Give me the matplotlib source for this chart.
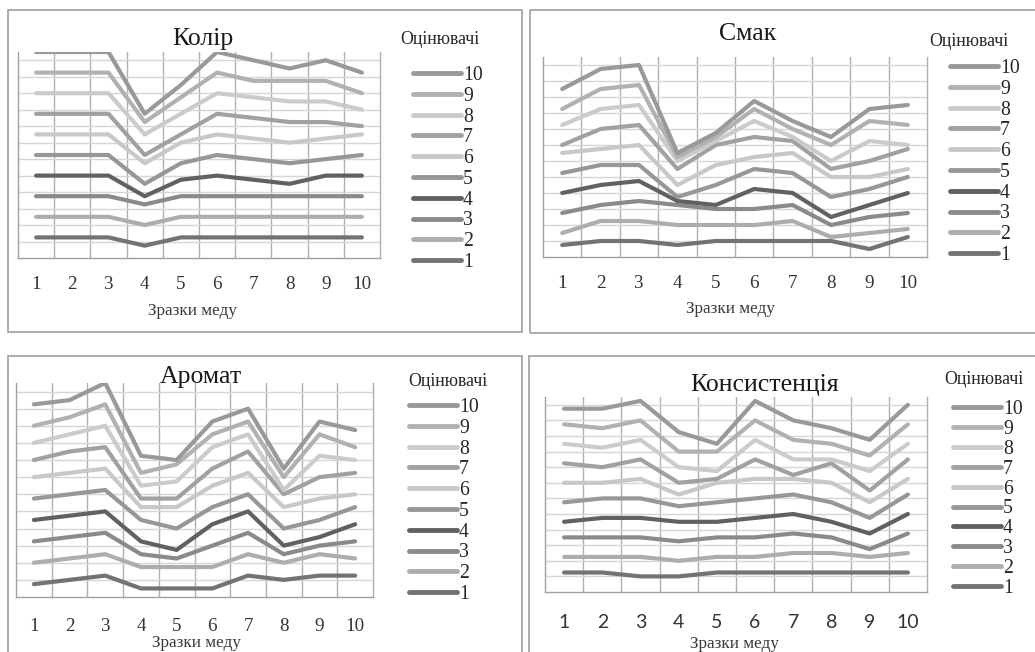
import matplotlib
matplotlib.use("Agg")
import matplotlib.pyplot as plt
from matplotlib.patches import Rectangle
from matplotlib.lines import Line2D
from matplotlib.font_manager import FontProperties
import numpy as np

W, H, DPI = 1035, 652, 100

samples = [1, 2, 3, 4, 5, 6, 7, 8, 9, 10]
sample_labels = ["1", "2", "3", "4", "5", "6", "7", "8", "9", "10"]
evaluators = ["1", "2", "3", "4", "5", "6", "7", "8", "9", "10"]

# scores of each evaluator (rows) for samples 1..10 (stacked in chart)
kolir = [
    [5, 5, 5, 3, 5, 5, 5, 5, 5, 5],
    [5, 5, 5, 5, 5, 5, 5, 5, 5, 5],
    [5, 5, 5, 5, 5, 5, 5, 5, 5, 5],
    [5, 5, 5, 2, 4, 5, 4, 3, 5, 5],
    [5, 5, 5, 3, 4, 5, 5, 5, 4, 5],
    [5, 5, 5, 5, 5, 5, 5, 5, 5, 5],
    [5, 5, 5, 2, 2, 5, 5, 5, 4, 2],
    [5, 5, 5, 5, 5, 5, 5, 5, 5, 4],
    [5, 5, 5, 3, 4, 5, 4, 5, 5, 4],
    [5, 5, 5, 2, 3, 5, 5, 3, 5, 5],
]
smak = [
    [3, 4, 4, 3, 4, 4, 4, 4, 2, 5],
    [3, 5, 5, 5, 4, 4, 5, 1, 4, 2],
    [5, 4, 5, 5, 4, 4, 4, 3, 4, 4],
    [5, 5, 5, 1, 1, 5, 3, 2, 3, 5],
    [5, 5, 4, 1, 5, 5, 5, 5, 4, 4],
    [5, 4, 5, 3, 5, 3, 5, 5, 3, 2],
    [2, 5, 5, 4, 5, 5, 3, 2, 4, 5],
    [5, 5, 5, 2, 1, 4, 1, 2, 5, 1],
    [4, 5, 5, 1, 1, 3, 2, 4, 5, 5],
    [5, 5, 5, 1, 1, 2, 2, 2, 3, 5],
]
aromat = [
    [3, 4, 5, 2, 2, 2, 5, 4, 5, 5],
    [5, 5, 5, 5, 5, 5, 5, 4, 5, 4],
    [5, 5, 5, 3, 2, 5, 5, 2, 2, 4],
    [5, 5, 5, 3, 2, 5, 5, 2, 2, 4],
    [5, 5, 5, 5, 5, 4, 4, 4, 4, 4],
    [5, 5, 5, 3, 5, 5, 5, 5, 5, 3],
    [4, 5, 5, 2, 2, 4, 5, 3, 5, 5],
    [4, 4, 5, 3, 4, 5, 4, 1, 5, 3],
    [4, 4, 5, 3, 4, 3, 3, 3, 5, 3],
    [5, 4, 5, 4, 1, 3, 3, 2, 3, 4],
]
konsystentsiia = [
    [5, 5, 4, 4, 5, 5, 5, 5, 5, 5],
    [4, 4, 5, 4, 4, 4, 5, 5, 4, 5],
    [5, 5, 5, 5, 5, 5, 5, 4, 2, 5],
    [4, 5, 5, 5, 4, 5, 5, 4, 4, 5],
    [5, 5, 5, 4, 5, 5, 5, 5, 4, 5],
    [5, 4, 5, 3, 5, 5, 4, 5, 4, 4],
    [5, 4, 5, 3, 1, 5, 1, 5, 3, 5],
    [5, 5, 5, 4, 2, 5, 4, 1, 5, 4],
    [5, 5, 5, 4, 5, 5, 5, 4, 4, 5],
    [4, 5, 5, 5, 2, 5, 5, 4, 4, 5],
]

colors = ["#737373", "#adadad", "#8a8a8a", "#616161", "#979797",
          "#c8c8c8", "#a1a1a1", "#cbcbcb", "#b1b1b1", "#999999"]

SERIF = "Liberation Serif"
fig = plt.figure(figsize=(W / DPI, H / DPI), dpi=DPI)
fig.patch.set_facecolor("white")


def fx(x):
    return x / W


def fy(y):
    return 1 - y / H


def frame(x0, y0, x1, y1):
    fig.add_artist(Rectangle((fx(x0), fy(y1)), (x1 - x0) / W, (y1 - y0) / H,
                             transform=fig.transFigure, fill=False,
                             ec="#a6a6a6", lw=1.3))


def panel(scores, plot, title, title_xy, pad, tickfont, ticksize, xlabel_xy,
          leg_title_xy, leg_xy, leg_space):
    l, t, r, b = plot
    ax = fig.add_axes([fx(l), fy(b), (r - l) / W, (b - t) / H])
    cum = np.cumsum(np.array(scores, dtype=float), axis=0)
    for i in range(len(evaluators)):
        ax.plot(samples, cum[i], color=colors[i], lw=3.0,
                solid_capstyle="round", solid_joinstyle="round", zorder=3 + i)
    ax.set_xlim(0.5, 10.5)
    ax.set_ylim(0, 50)
    ax.set_yticks(np.arange(4, 49, 4))
    ax.yaxis.grid(True, color="#d6d6d6", lw=1.0)
    ax.set_xticks(np.arange(1.5, 10.5, 1), minor=True)
    ax.xaxis.grid(True, which="minor", color="#b0b0b0", lw=1.0)
    ax.set_axisbelow(True)
    ax.tick_params(axis="y", left=False, labelleft=False)
    ax.tick_params(axis="x", which="both", length=0)
    ax.set_xticks(samples)
    ax.set_xticklabels(sample_labels, fontsize=ticksize, color="#333333",
                       family=tickfont)
    ax.tick_params(axis="x", which="major", pad=pad)
    ax.spines["top"].set_visible(False)
    ax.spines["right"].set_color("#b0b0b0")
    ax.spines["left"].set_color("#a0a0a0")
    ax.spines["bottom"].set_color("#a0a0a0")
    for s in ["right", "left", "bottom"]:
        ax.spines[s].set_linewidth(1.0)
    ax.set_facecolor("white")

    fig.text(fx(title_xy[0]), fy(title_xy[1]), title, family=SERIF,
             fontsize=18.5, color="#1a1a1a", ha="center", va="baseline")
    fig.text(fx(xlabel_xy[0]), fy(xlabel_xy[1]), "Зразки меду", family=SERIF,
             fontsize=12.3, color="#3a3a3a", ha="center", va="baseline")
    fig.text(fx(leg_title_xy[0]), fy(leg_title_xy[1]), "Оцінювачі",
             family=SERIF, fontsize=12.8, color="#262626", ha="left",
             va="center")
    handles = [Line2D([], [], color=colors[i], lw=3.5, solid_capstyle="round")
               for i in range(len(evaluators))][::-1]
    fig.legend(handles, evaluators[::-1], loc="upper left",
               bbox_to_anchor=(fx(leg_xy[0]), fy(leg_xy[1])),
               bbox_transform=fig.transFigure, frameon=False, borderpad=0,
               borderaxespad=0, handlelength=2.45, handletextpad=0.08,
               labelspacing=leg_space,
               prop=FontProperties(family=SERIF, size=14.2),
               labelcolor="#262626")
    return ax


frame(8, 10, 522, 332)
frame(530, 10, 1045, 333)
frame(8, 356, 522, 670)
frame(529, 356, 1045, 670)

panel(kolir, (18, 52, 380, 258), "Колір", (203, 45), 13.0, SERIF, 13.7,
      (192, 315), (400, 40), (413, 66), 0.09)
panel(smak, (543, 57, 927, 257), "Смак", (748, 40), 13.2, SERIF, 13.7,
      (731, 313), (929, 42), (950, 59), 0.09)
panel(aromat, (16, 383, 373, 597), "Аромат", (201, 383), 15.0, SERIF, 13.7,
      (197, 647), (408, 382), (409, 398), 0.09)
panel(konsystentsiia, (545, 397, 927, 592), "Консистенція", (765, 391), 15.5,
      "Lato", 14.0, (735, 648), (944, 379), (953, 400), 0.045)

fig.savefig("out.png", dpi=DPI, facecolor="white")
